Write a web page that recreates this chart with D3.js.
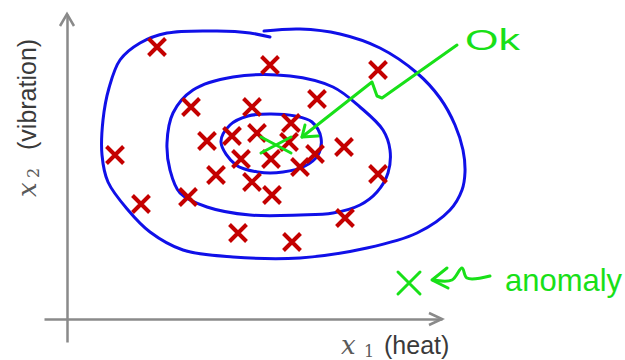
<!DOCTYPE html>
<html>
<head>
<meta charset="utf-8">
<script src="https://cdn.jsdelivr.net/npm/d3@7"></script>
<style>
  html, body { margin: 0; padding: 0; background: #fff; }
  svg { display: block; }
</style>
</head>
<body>
<svg id="chart" width="625" height="360"></svg>
<script>
// ---- Data (x1 = heat, x2 = vibration, arbitrary units) ----
const normalX1 = [90, 203, 311, 124, 185, 250, 140, 165, 190, 224, 222, 277, 174, 204, 248, 233, 149, 185, 205, 311, 48, 74, 121, 171, 225, 278];
const normalX2 = [272, 254, 249, 212, 212, 220, 178, 183, 186, 196, 177, 172, 160, 160, 165, 152, 144, 137, 124, 145, 164, 115, 122, 86, 77, 101];

// highlighted points
const okPoint = [209, 174];
const anomalyPoint = [342, 36];

// hand-drawn density contours
const innerContourX1 = [154, 163, 181, 203, 228, 245, 254, 251, 238, 216, 191, 169];
const innerContourX2 = [177, 194, 203, 205, 203, 197, 181, 164, 153, 147, 147, 154];
const middleContourX1 = [100, 106, 126, 166, 223, 266, 293, 316, 323, 321, 310, 293, 266, 233, 183, 140, 113, 103];
const middleContourX2 = [176, 206, 229, 242, 243, 232, 212, 189, 169, 146, 127, 114, 106, 104, 104, 112, 126, 149];
const outerContourX1 = [197, 233, 273, 313, 350, 373, 388, 396, 398, 395, 383, 350, 300, 233, 166, 116, 83, 61, 41, 35, 36, 42, 53, 73, 100, 150, 183, 203];
const outerContourX2 = [288, 290, 285, 271, 246, 221, 194, 169, 147, 129, 109, 86, 71, 61, 62, 69, 87, 109, 137, 164, 199, 231, 259, 276, 286, 288, 286, 282];

// annotations
const okArrowX1 = [390, 315, 310, 305, 235];
const okArrowX2 = [274, 221, 223, 237, 182];
const okHeadX1 = [238, 235, 251];
const okHeadX2 = [194, 182, 183];
const anomalyHeadX1 = [380, 365, 381];
const anomalyHeadX2 = [51, 39, 31];
const anomalyTailX1 = [366, 385, 395, 400, 423];
const anomalyTailX2 = [39, 39, 51, 41, 43];
const okLabel = { text: "Ok", x1: 398, x2: 269 };
const anomalyLabel = { text: "anomaly", x1: 438, x2: 28 };

// axis extents
const axisX1Extent = [-23, 375];
const axisX2Extent = [-23, 305];

// ---- Drawing ----
const svg = d3.select("#chart");
const x = d3.scaleLinear().domain([0, 400]).range([67, 467]);
const y = d3.scaleLinear().domain([0, 300]).range([319, 19]);

const zip = (a, b) => a.map((v, i) => [v, b[i]]);
const lineOpen = d3.line().x(d => x(d[0])).y(d => y(d[1])).curve(d3.curveCatmullRom.alpha(0.5));
const lineClosed = d3.line().x(d => x(d[0])).y(d => y(d[1])).curve(d3.curveCatmullRomClosed.alpha(0.5));
const lineStraight = d3.line().x(d => x(d[0])).y(d => y(d[1]));

const AXIS = "#8a8a8a";
const BLUE = "#1010e8";
const RED = "#c40000";
const GREEN = "#18e018";

// axes
const xAxisScale = d3.scaleLinear().domain(axisX1Extent).range(axisX1Extent.map(x));
const yAxisScale = d3.scaleLinear().domain(axisX2Extent).range(axisX2Extent.map(y));
const gx = svg.append("g").attr("transform", `translate(0,${y(0)})`)
  .call(d3.axisBottom(xAxisScale).tickValues([]).tickSizeOuter(0));
const gy = svg.append("g").attr("transform", `translate(${x(0)},0)`)
  .call(d3.axisLeft(yAxisScale).tickValues([]).tickSizeOuter(0));
[gx, gy].forEach(g => g.select(".domain").attr("stroke", AXIS).attr("stroke-width", 2.5));

// arrowheads on axes
const xe = xAxisScale(axisX1Extent[1]), ye = yAxisScale(axisX2Extent[1]);
svg.append("path")
  .attr("d", `M${xe - 13},${y(0) - 6}L${xe},${y(0)}L${xe - 13},${y(0) + 6}`)
  .attr("fill", "none").attr("stroke", AXIS).attr("stroke-width", 2.5);
svg.append("path")
  .attr("d", `M${x(0) - 7},${ye + 12}L${x(0)},${ye}L${x(0) + 7},${ye + 12}`)
  .attr("fill", "none").attr("stroke", AXIS).attr("stroke-width", 2.5);

// contours
const contours = svg.append("g").attr("fill", "none").attr("stroke", BLUE)
  .attr("stroke-width", 3).attr("stroke-linecap", "round").attr("stroke-linejoin", "round");
contours.append("path").attr("d", lineClosed(zip(innerContourX1, innerContourX2)));
contours.append("path").attr("d", lineClosed(zip(middleContourX1, middleContourX2)));
contours.append("path").attr("d", lineOpen(zip(outerContourX1, outerContourX2)));

// red crosses
const crossPath = (cx, cy, sx, sy) =>
  `M${cx - sx},${cy - sy}L${cx + sx},${cy + sy}M${cx - sx},${cy + sy}L${cx + sx},${cy - sy}`;
svg.append("g").selectAll("path").data(zip(normalX1, normalX2)).join("path")
  .attr("d", d => crossPath(x(d[0]), y(d[1]), 8.5, 8.5))
  .attr("fill", "none").attr("stroke", RED).attr("stroke-width", 4);

// green annotations
const ann = svg.append("g").attr("fill", "none").attr("stroke", GREEN)
  .attr("stroke-width", 3).attr("stroke-linecap", "round").attr("stroke-linejoin", "round");
ann.append("path").attr("d", crossPath(x(okPoint[0]), y(okPoint[1]), 15, 8));
ann.append("path").attr("d", crossPath(x(anomalyPoint[0]), y(anomalyPoint[1]), 11, 11));
ann.append("path").attr("d", lineStraight(zip(okArrowX1, okArrowX2)));
ann.append("path").attr("d", lineStraight(zip(okHeadX1, okHeadX2)));
ann.append("path").attr("d", lineStraight(zip(anomalyHeadX1, anomalyHeadX2)));
ann.append("path").attr("d", lineOpen(zip(anomalyTailX1, anomalyTailX2)));

svg.append("text").attr("x", x(okLabel.x1)).attr("y", y(okLabel.x2))
  .attr("font-family", "Liberation Sans").attr("font-size", 30)
  .attr("fill", GREEN).attr("textLength", 55).attr("lengthAdjust", "spacingAndGlyphs")
  .text(okLabel.text);
svg.append("text").attr("x", x(anomalyLabel.x1)).attr("y", y(anomalyLabel.x2))
  .attr("font-family", "Liberation Sans").attr("font-size", 32)
  .attr("fill", GREEN).attr("textLength", 117).attr("lengthAdjust", "spacingAndGlyphs")
  .text(anomalyLabel.text);

// axis labels
const xl = svg.append("text").attr("y", 354).attr("fill", "#3a3a3a");
xl.append("tspan").attr("x", 341).attr("font-family", "DejaVu Serif").attr("font-style", "italic")
  .attr("font-size", 26).attr("fill", "#5a5a5a").text("x");
xl.append("tspan").attr("x", 364).attr("dy", 3).attr("font-family", "DejaVu Serif")
  .attr("font-size", 16).attr("fill", "#5a5a5a").text("1");
xl.append("tspan").attr("x", 384).attr("dy", -3).attr("font-family", "Liberation Sans")
  .attr("font-size", 25).text("(heat)");

const yl = svg.append("text").attr("transform", "translate(36,197) rotate(-90)").attr("fill", "#3a3a3a");
yl.append("tspan").attr("x", 0).attr("font-family", "DejaVu Serif").attr("font-style", "italic")
  .attr("font-size", 26).attr("fill", "#5a5a5a").text("x");
yl.append("tspan").attr("x", 19).attr("dy", 3).attr("font-family", "DejaVu Serif")
  .attr("font-size", 16).attr("fill", "#5a5a5a").text("2");
yl.append("tspan").attr("x", 47).attr("dy", -3).attr("font-family", "Liberation Sans")
  .attr("font-size", 25).text("(vibration)");
</script>
</body>
</html>
